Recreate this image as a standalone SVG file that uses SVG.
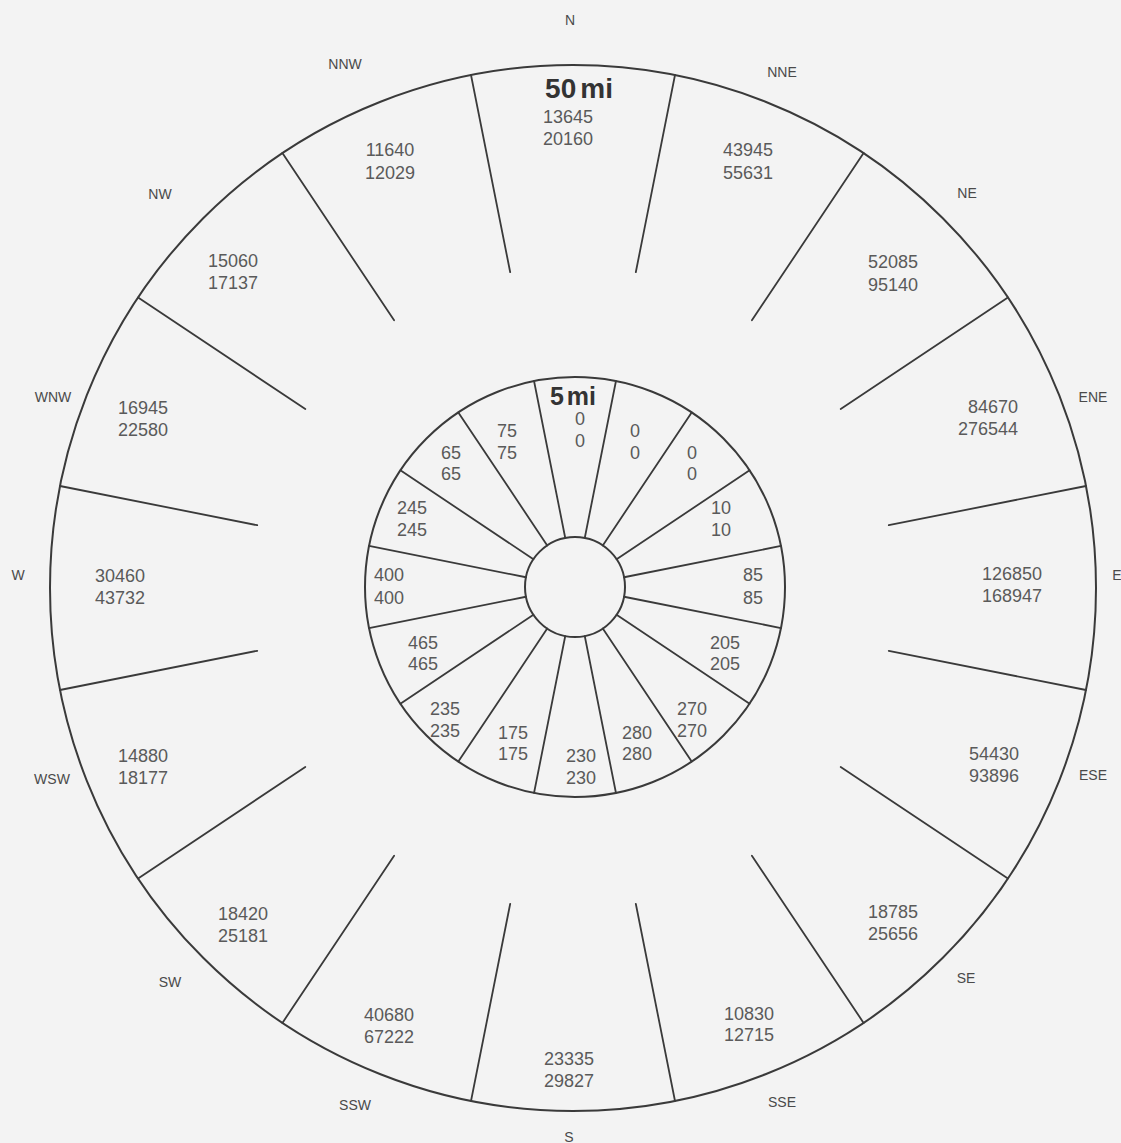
<svg xmlns="http://www.w3.org/2000/svg" width="1121" height="1143" viewBox="0 0 1121 1143">
<style>
.ln{stroke:#3a3a3a;stroke-width:1.8;fill:none;stroke-linecap:round}
.cr{stroke:#3a3a3a;stroke-width:2;fill:none}
.n{font-family:"Liberation Sans",Arial,sans-serif;font-size:18px;fill:#5a5a5a;text-anchor:middle}
.d{font-family:"Liberation Sans",Arial,sans-serif;font-size:14px;fill:#4a4a4a;text-anchor:middle}
.t{font-family:"Liberation Sans",Arial,sans-serif;font-weight:bold;fill:#333;text-anchor:middle}
</style>
<rect width="1121" height="1143" fill="#f3f3f3"/>
<g id="circles">
<circle class="cr" cx="573" cy="588" r="523"/>
<circle class="cr" cx="575" cy="587" r="210"/>
<circle class="cr" cx="575" cy="587" r="50"/>
</g>
<g id="connectors">
<line class="ln" x1="635.8" y1="272.2" x2="675.0" y2="75.0"/>
<line class="ln" x1="751.9" y1="320.3" x2="863.6" y2="153.1"/>
<line class="ln" x1="840.7" y1="409.1" x2="1007.9" y2="297.4"/>
<line class="ln" x1="888.8" y1="525.2" x2="1086.0" y2="486.0"/>
<line class="ln" x1="888.8" y1="650.8" x2="1086.0" y2="690.0"/>
<line class="ln" x1="840.7" y1="766.9" x2="1007.9" y2="878.6"/>
<line class="ln" x1="751.9" y1="855.7" x2="863.6" y2="1022.9"/>
<line class="ln" x1="635.8" y1="903.8" x2="675.0" y2="1101.0"/>
<line class="ln" x1="510.2" y1="903.8" x2="471.0" y2="1101.0"/>
<line class="ln" x1="394.1" y1="855.7" x2="282.4" y2="1022.9"/>
<line class="ln" x1="305.3" y1="766.9" x2="138.1" y2="878.6"/>
<line class="ln" x1="257.2" y1="650.8" x2="60.0" y2="690.0"/>
<line class="ln" x1="257.2" y1="525.2" x2="60.0" y2="486.0"/>
<line class="ln" x1="305.3" y1="409.1" x2="138.1" y2="297.4"/>
<line class="ln" x1="394.1" y1="320.3" x2="282.4" y2="153.1"/>
<line class="ln" x1="510.2" y1="272.2" x2="471.0" y2="75.0"/>
<line class="ln" x1="584.75" y1="537.96" x2="615.97" y2="381.03"/>
<line class="ln" x1="602.78" y1="545.43" x2="691.67" y2="412.39"/>
<line class="ln" x1="616.57" y1="559.22" x2="749.61" y2="470.33"/>
<line class="ln" x1="624.04" y1="577.25" x2="780.97" y2="545.97"/>
<line class="ln" x1="624.04" y1="596.75" x2="780.97" y2="628.03"/>
<line class="ln" x1="616.57" y1="614.78" x2="749.61" y2="703.67"/>
<line class="ln" x1="602.78" y1="628.57" x2="691.67" y2="761.61"/>
<line class="ln" x1="584.75" y1="636.04" x2="615.97" y2="792.97"/>
<line class="ln" x1="565.25" y1="636.04" x2="534.03" y2="792.97"/>
<line class="ln" x1="547.22" y1="628.57" x2="458.33" y2="761.61"/>
<line class="ln" x1="533.43" y1="614.78" x2="400.39" y2="703.67"/>
<line class="ln" x1="525.96" y1="596.75" x2="369.03" y2="628.03"/>
<line class="ln" x1="525.96" y1="577.25" x2="369.03" y2="545.97"/>
<line class="ln" x1="533.43" y1="559.22" x2="400.39" y2="470.33"/>
<line class="ln" x1="547.22" y1="545.43" x2="458.33" y2="412.39"/>
<line class="ln" x1="565.25" y1="537.96" x2="534.03" y2="381.03"/>
</g>
<g id="directions">
<text class="d" x="570" y="25">N</text>
<text class="d" x="782" y="77">NNE</text>
<text class="d" x="967" y="198">NE</text>
<text class="d" x="1093" y="402">ENE</text>
<text class="d" x="1117" y="580">E</text>
<text class="d" x="1093" y="780">ESE</text>
<text class="d" x="966" y="983">SE</text>
<text class="d" x="782" y="1107">SSE</text>
<text class="d" x="569" y="1142">S</text>
<text class="d" x="355" y="1110">SSW</text>
<text class="d" x="170" y="987">SW</text>
<text class="d" x="52" y="784">WSW</text>
<text class="d" x="18" y="580">W</text>
<text class="d" x="53" y="402">WNW</text>
<text class="d" x="160" y="199">NW</text>
<text class="d" x="345" y="69">NNW</text>
</g>
<g id="title-50mi"><text class="t" x="579" y="98" font-size="28">50<tspan dx="4">mi</tspan></text></g>
<g id="title-5mi"><text class="t" x="573" y="405" font-size="25">5<tspan dx="3">mi</tspan></text></g>
<g id="outer-N"><text class="n" x="568" y="123">13645</text><text class="n" x="568" y="145">20160</text></g>
<g id="outer-NNE"><text class="n" x="748" y="156">43945</text><text class="n" x="748" y="179">55631</text></g>
<g id="outer-NE"><text class="n" x="893" y="268">52085</text><text class="n" x="893" y="291">95140</text></g>
<g id="outer-ENE"><text class="n" x="993" y="413">84670</text><text class="n" x="988" y="435">276544</text></g>
<g id="outer-E"><text class="n" x="1012" y="580">126850</text><text class="n" x="1012" y="602">168947</text></g>
<g id="outer-ESE"><text class="n" x="994" y="760">54430</text><text class="n" x="994" y="782">93896</text></g>
<g id="outer-SE"><text class="n" x="893" y="918">18785</text><text class="n" x="893" y="940">25656</text></g>
<g id="outer-SSE"><text class="n" x="749" y="1020">10830</text><text class="n" x="749" y="1041">12715</text></g>
<g id="outer-S"><text class="n" x="569" y="1065">23335</text><text class="n" x="569" y="1087">29827</text></g>
<g id="outer-SSW"><text class="n" x="389" y="1021">40680</text><text class="n" x="389" y="1043">67222</text></g>
<g id="outer-SW"><text class="n" x="243" y="920">18420</text><text class="n" x="243" y="942">25181</text></g>
<g id="outer-WSW"><text class="n" x="143" y="762">14880</text><text class="n" x="143" y="784">18177</text></g>
<g id="outer-W"><text class="n" x="120" y="582">30460</text><text class="n" x="120" y="604">43732</text></g>
<g id="outer-WNW"><text class="n" x="143" y="414">16945</text><text class="n" x="143" y="436">22580</text></g>
<g id="outer-NW"><text class="n" x="233" y="267">15060</text><text class="n" x="233" y="289">17137</text></g>
<g id="outer-NNW"><text class="n" x="390" y="156">11640</text><text class="n" x="390" y="179">12029</text></g>
<g id="inner-N"><text class="n" x="580" y="425">0</text><text class="n" x="580" y="447">0</text></g>
<g id="inner-NNE"><text class="n" x="635" y="437">0</text><text class="n" x="635" y="459">0</text></g>
<g id="inner-NE"><text class="n" x="692" y="459">0</text><text class="n" x="692" y="480">0</text></g>
<g id="inner-ENE"><text class="n" x="721" y="514">10</text><text class="n" x="721" y="536">10</text></g>
<g id="inner-E"><text class="n" x="753" y="581">85</text><text class="n" x="753" y="604">85</text></g>
<g id="inner-ESE"><text class="n" x="725" y="649">205</text><text class="n" x="725" y="670">205</text></g>
<g id="inner-SE"><text class="n" x="692" y="715">270</text><text class="n" x="692" y="737">270</text></g>
<g id="inner-SSE"><text class="n" x="637" y="739">280</text><text class="n" x="637" y="760">280</text></g>
<g id="inner-S"><text class="n" x="581" y="762">230</text><text class="n" x="581" y="784">230</text></g>
<g id="inner-SSW"><text class="n" x="513" y="739">175</text><text class="n" x="513" y="760">175</text></g>
<g id="inner-SW"><text class="n" x="445" y="715">235</text><text class="n" x="445" y="737">235</text></g>
<g id="inner-WSW"><text class="n" x="423" y="649">465</text><text class="n" x="423" y="670">465</text></g>
<g id="inner-W"><text class="n" x="389" y="581">400</text><text class="n" x="389" y="604">400</text></g>
<g id="inner-WNW"><text class="n" x="412" y="514">245</text><text class="n" x="412" y="536">245</text></g>
<g id="inner-NW"><text class="n" x="451" y="459">65</text><text class="n" x="451" y="480">65</text></g>
<g id="inner-NNW"><text class="n" x="507" y="437">75</text><text class="n" x="507" y="459">75</text></g>
</svg>
